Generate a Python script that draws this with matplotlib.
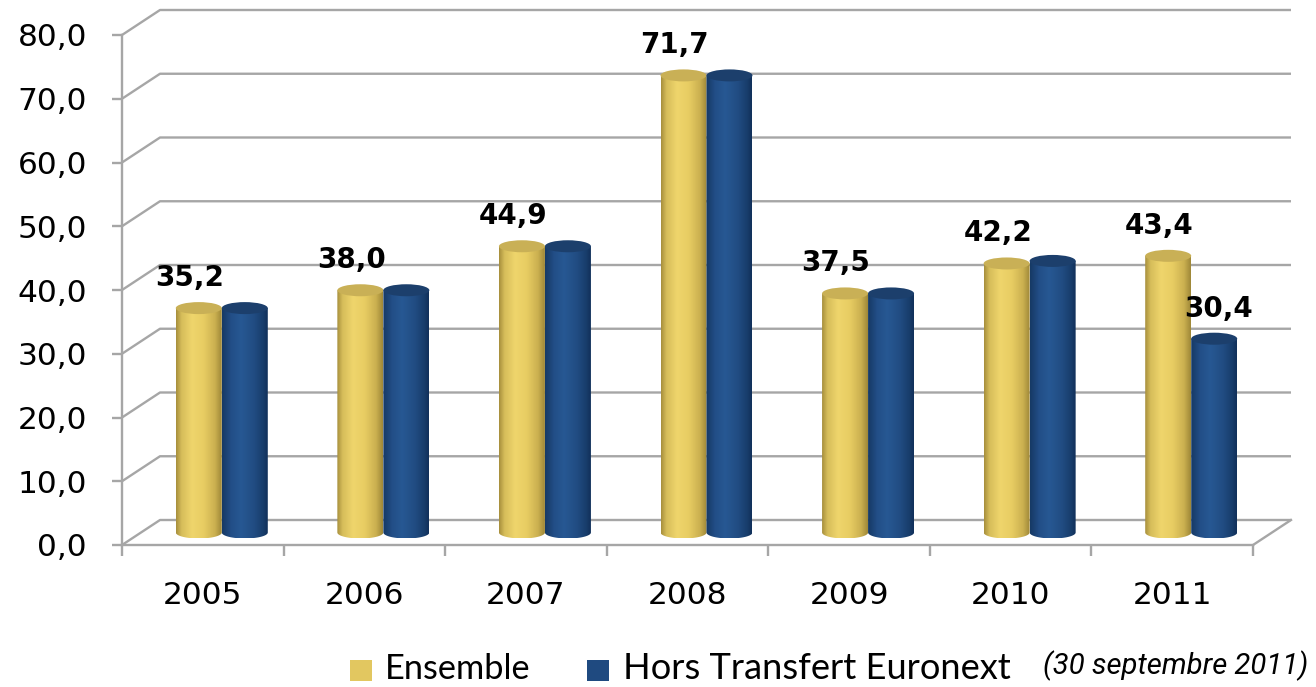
import numpy as np
import matplotlib
matplotlib.use("Agg")
import matplotlib.pyplot as plt
from matplotlib.colors import LinearSegmentedColormap
from matplotlib.path import Path
from matplotlib.patches import PathPatch, Ellipse, Rectangle

# ---------------- data ----------------
years = ["2005", "2006", "2007", "2008", "2009", "2010", "2011"]
ensemble = [35.2, 38.0, 44.9, 71.7, 37.5, 42.2, 43.4]
hors_transfert = [35.2, 38.0, 44.9, 71.7, 37.5, 42.6, 30.4]
labels_ensemble = ["35,2", "38,0", "44,9", "71,7", "37,5", "42,2", "43,4"]
label_hors = {6: "30,4"}
series_names = ["Ensemble", "Hors Transfert Euronext"]
yticks = [0, 10, 20, 30, 40, 50, 60, 70, 80]
note = "(30 septembre 2011)"

W, H = 1316, 687
fig = plt.figure(figsize=(W / 100, H / 100), dpi=100)
fig.patch.set_facecolor("white")

# front plane in pixels
x_left, x_right = 122, 1253
y_zero, y_top = 545, 35
ax = fig.add_axes([x_left / W, (H - y_zero) / H, (x_right - x_left) / W, (y_zero - y_top) / H])
ax.set_facecolor("none")

n = len(years)
px_per_x = (x_right - x_left) / n
px_per_y = (y_zero - y_top) / 80.0
DX = 38 / px_per_x
DY = 25 / px_per_y
EH = 12 / px_per_y          # ellipse full height (data units)
BW = 46 / px_per_x          # bar width

grid_c = "#a6a6a6"
glw = 1.7

# back grid, side diagonals
for v in yticks:
    ax.plot([0, DX, n + DX], [v, v + DY, v + DY], color=grid_c, lw=glw, clip_on=False,
            zorder=1, solid_capstyle="butt")
ax.plot([n, n + DX], [0, DY], color=grid_c, lw=glw, clip_on=False, zorder=1)

yellow_cmap = LinearSegmentedColormap.from_list(
    "yel", [(0, "#a68e3c"), (0.12, "#d6bd5a"), (0.35, "#efd56c"), (0.6, "#e8cd63"),
            (0.85, "#cbb050"), (1, "#9e8738")])
blue_cmap = LinearSegmentedColormap.from_list(
    "blu", [(0, "#163964"), (0.2, "#224e87"), (0.42, "#275893"), (0.7, "#214c82"),
            (0.9, "#183d6b"), (1, "#11305a")])
grad = np.linspace(0, 1, 256).reshape(1, -1)


def cylinder(xc, value, cmap, top_color, z):
    x0, x1 = xc - BW / 2, xc + BW / 2
    base = DY / 2
    top = value + DY / 2
    t = np.linspace(np.pi, 2 * np.pi, 60)
    arc = np.column_stack([xc + (BW / 2) * np.cos(t), base + (EH / 2) * np.sin(t)])
    verts = np.vstack([[[x0, top]], arc, [[x1, top]], [[x0, top]]])
    codes = [Path.MOVETO] + [Path.LINETO] * (len(verts) - 2) + [Path.CLOSEPOLY]
    patch = PathPatch(Path(verts, codes), facecolor="none", edgecolor="none",
                      transform=ax.transData)
    ax.add_patch(patch)
    im = ax.imshow(grad, extent=[x0, x1, base - EH / 2, top], aspect="auto",
                   cmap=cmap, origin="lower", zorder=z, interpolation="bilinear")
    im.set_clip_path(patch)
    ax.add_patch(Ellipse((xc, top), BW, EH, facecolor=top_color, edgecolor="none", zorder=z + 0.1))


for i in range(n):
    pc = i + 0.5 + DX / 2
    xy = pc - BW / 2
    xb = pc + BW / 2
    cylinder(xy, ensemble[i], yellow_cmap, "#c9b056", 3)
    cylinder(xb, hors_transfert[i], blue_cmap, "#1c3f6c", 4)
    ax.text(xy - 9 / px_per_x, ensemble[i] + DY / 2 + EH / 2 + 16 / px_per_y,
            labels_ensemble[i], ha="center", va="baseline", fontsize=20,
            fontweight="bold", color="black", zorder=6)
    if i in label_hors:
        ax.text(xb + 4 / px_per_x, hors_transfert[i] + DY / 2 + EH / 2 + 16 / px_per_y,
                label_hors[i], ha="center", va="baseline", fontsize=20,
                fontweight="bold", color="black", zorder=6)

ax.set_xlim(0, n)
ax.set_ylim(0, 80)

# axes styling
for s in ["top", "right"]:
    ax.spines[s].set_visible(False)
for s in ["left", "bottom"]:
    ax.spines[s].set_color(grid_c)
    ax.spines[s].set_linewidth(glw)
    ax.spines[s].set_zorder(2)

ax.set_yticks(yticks)
ax.set_yticklabels([f"{v:.1f}".replace(".", ",") for v in yticks])
ax.tick_params(axis="y", length=7.2, width=glw, color=grid_c, labelsize=22.5,
               pad=18, labelcolor="black")
ax.set_xticks(np.arange(n) + 0.5)
ax.set_xticklabels(years)
ax.tick_params(axis="x", which="major", length=0, labelsize=22.5, pad=26, labelcolor="black")
ax.set_xticks(np.arange(n + 1), minor=True)
ax.tick_params(axis="x", which="minor", length=8, width=glw, color=grid_c)

# legend (manual)
def fx(px):
    return px / W


def fy(py):
    return (H - py) / H


fig.patches.append(Rectangle((fx(350), fy(681)), 22 / W, 21 / H, transform=fig.transFigure,
                             facecolor="#e2c760", edgecolor="none"))
fig.patches.append(Rectangle((fx(587), fy(681)), 22 / W, 21 / H, transform=fig.transFigure,
                             facecolor="#1f4a80", edgecolor="none"))

renderer = fig.canvas.get_renderer()


def fitted_text(x_px, base_px, s, target_w, **kw):
    t = fig.text(fx(x_px), fy(base_px), s, ha="left", va="baseline", color="black",
                 fontsize=16, **kw)
    w = t.get_window_extent(renderer=renderer).width
    t.set_fontsize(16 * target_w / w)
    return t


fitted_text(385, 679, series_names[0], 146, family=["Lato", "DejaVu Sans"])
fitted_text(623, 679, series_names[1], 390, family=["Lato", "DejaVu Sans"])
fitted_text(1043, 674, note, 266, family=["Roboto", "DejaVu Sans"], style="italic")

fig.savefig("out.png", dpi=100, facecolor="white")
